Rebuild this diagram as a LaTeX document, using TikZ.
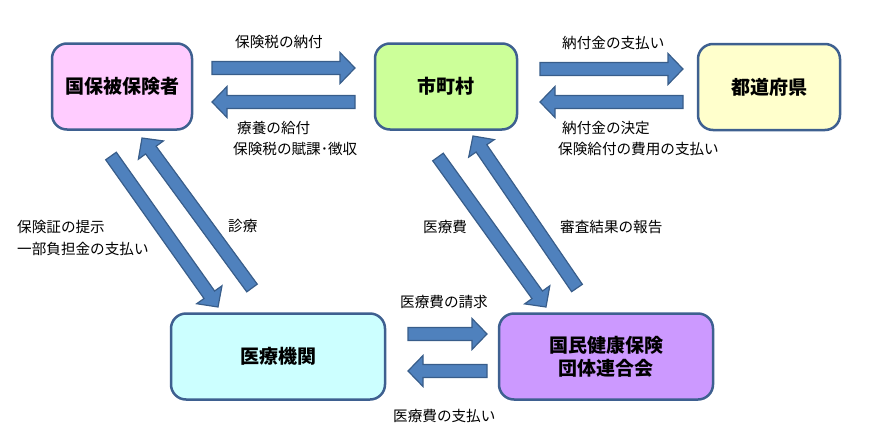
\documentclass[tikz,border=0pt]{standalone}
\usepackage{fontspec}
\setmainfont{Noto Sans CJK JP}
\usetikzlibrary{calc,positioning}
\definecolor{boxline}{HTML}{3E6090}
\definecolor{arrowfill}{HTML}{4F81BD}
\definecolor{arrowline}{HTML}{385D8A}
\definecolor{pinkfill}{HTML}{FFCCFF}
\definecolor{greenfill}{HTML}{CCFF99}
\definecolor{yellowfill}{HTML}{FFFFCC}
\definecolor{cyanfill}{HTML}{CCFFFF}
\definecolor{violetfill}{HTML}{CC99FF}
% block arrow from #1 to #2
\newcommand\blockarrow[2]{%
  \coordinate (ba-h) at ($(#2)!15pt!(#1)$);
  \draw[flow] ($(#1)!6.5pt!90:(#2)$) -- ($(ba-h)!6.5pt!90:(#2)$)
    -- ($(ba-h)!15.5pt!90:(#2)$) -- (#2) -- ($(ba-h)!15.5pt!-90:(#2)$)
    -- ($(ba-h)!6.5pt!-90:(#2)$) -- ($(#1)!6.5pt!-90:(#2)$) -- cycle;}

\begin{document}
\begin{tikzpicture}
        [x=1pt, y=-1pt,
         party/.style={draw=boxline, line width=2.5pt, rounded corners=15pt,
           minimum width=140pt, minimum height=86pt, align=center,
           font=\fontsize{19}{23}\selectfont\bfseries},
         flow/.style={fill=arrowfill, draw=arrowline, line width=1.2pt},
         lbl/.style={anchor=west, inner sep=0pt, font=\fontsize{14.6}{17}\selectfont}]
        \useasboundingbox (0,0) rectangle (879,445);
        % the five parties
        \node[party, fill=pinkfill] (hih) at (122,86.5) {国保被保険者};
        \node[party, fill=greenfill, minimum width=142pt] (shi) at (446,86.5) {市町村};
        \node[party, fill=yellowfill, minimum width=142pt] (ken) at (769,87) {都道府県};
        \node[party, fill=cyanfill, minimum width=214pt] (iryo) at (278,356.5) {医療機関};
        \node[party, fill=violetfill, minimum width=214pt] (rengo) at (606,356.5) {国民健康保険\\団体連合会};
        % arrow ends
        \coordinate (a1s) at (212,68);  \coordinate (a1e) at (355,68);
        \coordinate (a2s) at (355,102); \coordinate (a2e) at (212,102);
        \coordinate (a3s) at (540,69);  \coordinate (a3e) at (683,69);
        \coordinate (a4s) at (683,102); \coordinate (a4e) at (540,102);
        \coordinate (a5s) at (408,334); \coordinate (a5e) at (487,334);
        \coordinate (a6s) at (487,371); \coordinate (a6e) at (408,371);
        \coordinate (d1s) at (111,156); \coordinate (d1e) at (218,307);
        \coordinate (d2s) at (252,288); \coordinate (d2e) at (142,138);
        \coordinate (d3s) at (438,157); \coordinate (d3e) at (546,307);
        \coordinate (d4s) at (577,288); \coordinate (d4e) at (473,136);
        \blockarrow{a1s}{a1e}
        \blockarrow{a2s}{a2e}
        \blockarrow{a3s}{a3e}
        \blockarrow{a4s}{a4e}
        \blockarrow{a5s}{a5e}
        \blockarrow{a6s}{a6e}
        \blockarrow{d1s}{d1e}
        \blockarrow{d2s}{d2e}
        \blockarrow{d3s}{d3e}
        \blockarrow{d4s}{d4e}
        % labels
        \node[lbl] (l1) at (235,42) {保険税の納付};
        \node[lbl] (l2) at (237,128) {療養の給付};
        \node[lbl] (l3) at (233,149) {保険税の賦課･徴収};
        \node[lbl] (l4) at (562,43) {納付金の支払い};
        \node[lbl] (l5) at (562,128) {納付金の決定};
        \node[lbl] (l6) at (558,149) {保険給付の費用の支払い};
        \node[lbl] (l7) at (17,227) {保険証の提示};
        \node[lbl] (l8) at (17,249) {一部負担金の支払い};
        \node[lbl] (l9) at (228,226) {診療};
        \node[lbl] (l10) at (423,227) {医療費};
        \node[lbl] (l11) at (560,227) {審査結果の報告};
        \node[lbl] (l12) at (400,302) {医療費の請求};
        \node[lbl] (l13) at (393,416) {医療費の支払い};
      \end{tikzpicture}
\end{document}
